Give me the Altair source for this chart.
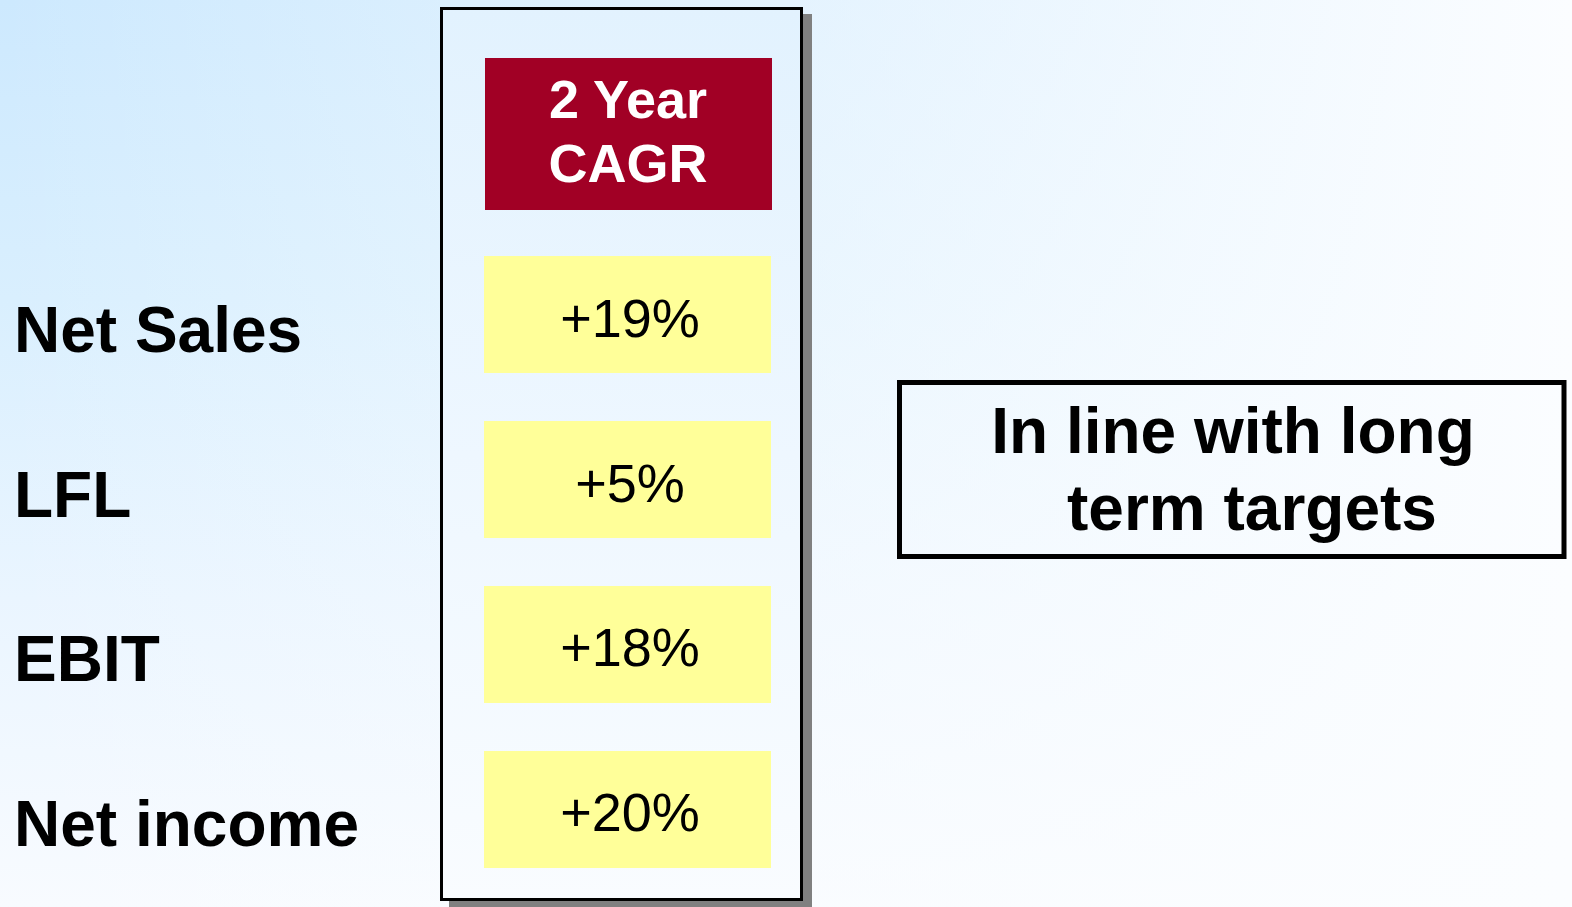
import altair as alt
import pandas as pd

# ---- data ----
metrics = ["Net Sales", "LFL", "EBIT", "Net income"]
cagr_pct = [19, 5, 18, 20]
header_lines = ["2 Year", "CAGR"]
note_lines = ["In line with long", "term targets"]

W, H = 1572, 907
FONT = "Liberation Sans"

df = pd.DataFrame({"metric": metrics, "cagr": cagr_pct})
df["label"] = ["+%d%%" % v for v in cagr_pct]
one = pd.DataFrame({"k": [0]})


def lin(stops, horizontal=False):
    g = {"gradient": "linear", "x1": 0, "y1": 0,
         "x2": 1 if horizontal else 0, "y2": 0 if horizontal else 1,
         "stops": [{"offset": o, "color": c} for o, c in stops]}
    return g


bg_v = alt.Chart(one).mark_rect(
    fill=lin([(0, "#cde9fe"), (0.33, "#d9effe"), (0.66, "#eaf5ff"), (1, "#f8fbff")])
).encode(x=alt.value(0), x2=alt.value(W), y=alt.value(0), y2=alt.value(H))

bg_h = alt.Chart(one).mark_rect(
    fill=lin([(0, "rgba(251,253,255,0)"), (1, "rgba(251,253,255,1)")], horizontal=True)
).encode(x=alt.value(0), x2=alt.value(W), y=alt.value(0), y2=alt.value(H))

shadow = alt.Chart(one).mark_rect(fill="#808080").encode(
    x=alt.value(449), x2=alt.value(812), y=alt.value(14), y2=alt.value(907))

panel = alt.Chart(one).mark_rect(
    fill=lin([(0, "#e2f2fe"), (0.5, "#eef7ff"), (1, "#f9fcff")]),
    stroke="black", strokeWidth=3,
).encode(x=alt.value(441.5), x2=alt.value(801.5), y=alt.value(8.5), y2=alt.value(899.5))

header = alt.Chart(one).mark_rect(fill="#a10025").encode(
    x=alt.value(485), x2=alt.value(772), y=alt.value(58), y2=alt.value(210))

header_text = alt.Chart(one).mark_text(
    text=header_lines, font=FONT, fontSize=54, fontWeight="bold", color="white",
    align="center", baseline="middle", lineHeight=64,
).encode(x=alt.value(628), y=alt.value(102))

ybase = alt.Y("metric:N", axis=None,
              scale=alt.Scale(domain=metrics, range=[256, 868],
                              paddingInner=0.29, paddingOuter=0))

yellow = alt.Chart(df).mark_rect(fill="#ffff99").encode(
    y=ybase, x=alt.value(484), x2=alt.value(771))

values = alt.Chart(df).mark_text(
    font=FONT, fontSize=54, color="black", align="center", baseline="middle", dy=6,
).encode(y=ybase, x=alt.value(630), text="label:N")

labels = alt.Chart(df).mark_text(
    font=FONT, fontSize=64, fontWeight="bold", color="black",
    align="left", baseline="middle", dy=18,
).encode(y=ybase, x=alt.value(14), text="metric:N")

note_box = alt.Chart(one).mark_rect(
    fill="white", fillOpacity=0, stroke="black", strokeWidth=5,
).encode(x=alt.value(899.5), x2=alt.value(1564), y=alt.value(382.5), y2=alt.value(556.5))

note_text1 = alt.Chart(one).mark_text(
    text=note_lines[0], font=FONT, fontSize=64, fontWeight="bold", color="black",
    align="center", baseline="middle",
).encode(x=alt.value(1233), y=alt.value(434))

note_text2 = alt.Chart(one).mark_text(
    text=note_lines[1], font=FONT, fontSize=64, fontWeight="bold", color="black",
    align="center", baseline="middle",
).encode(x=alt.value(1252), y=alt.value(511))

chart = alt.layer(
    bg_v, bg_h, shadow, panel, header, header_text, yellow, values, labels,
    note_box, note_text1, note_text2,
).properties(
    width=W, height=H, padding=0, autosize="none",
).configure_view(stroke=None)

chart.save("out.html", embed_options={"renderer": "svg", "actions": False})
